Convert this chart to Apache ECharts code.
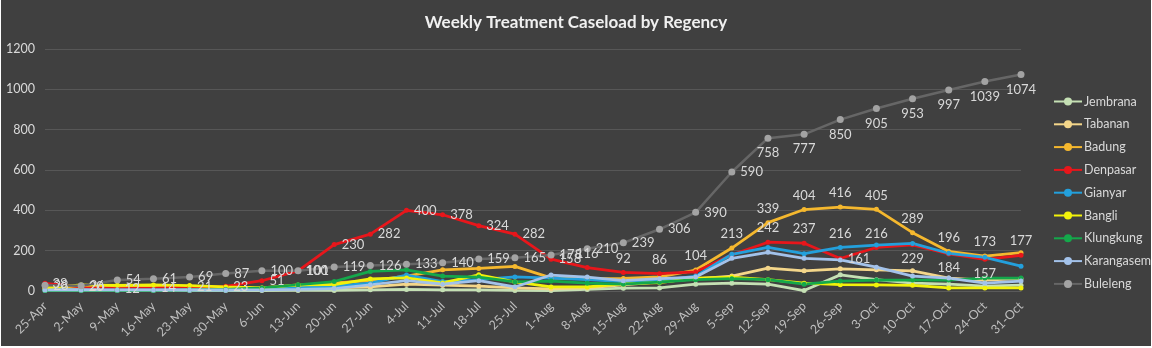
<!DOCTYPE html>
<html>
<head>
<meta charset="utf-8">
<script src="https://cdn.jsdelivr.net/npm/echarts@6/dist/echarts.min.js"></script>
<style>
  html, body { margin: 0; padding: 0; background: #ffffff; }
  #chart { position: absolute; left: 1px; top: 0; width: 1150px; height: 346px; background: #404040; }
</style>
</head>
<body>
<div id="chart"></div>
<script>
// Week starting dates (category axis)
const dates = ['25-Apr','2-May','9-May','16-May','23-May','30-May','6-Jun','13-Jun','20-Jun','27-Jun',
  '4-Jul','11-Jul','18-Jul','25-Jul','1-Aug','8-Aug','15-Aug','22-Aug','29-Aug','5-Sep',
  '12-Sep','19-Sep','26-Sep','3-Oct','10-Oct','17-Oct','24-Oct','31-Oct'];

// Weekly caseload per regency
const jembrana   = [2, 2, 2, 2, 2, 2, 2, 3, 3, 6, 8, 6, 5, 3, 2, 8, 14, 15, 34, 39, 34, 2, 80, 56, 39, 34, 24, 29];
const tabanan    = [8, 10, 10, 10, 10, 8, 8, 10, 15, 20, 34, 29, 24, 15, 10, 15, 30, 45, 60, 74, 113, 100, 110, 105, 100, 64, 54, 61];
const badung     = [15, 24, 22, 24, 22, 18, 15, 24, 40, 51, 74, 105, 112, 122, 65, 60, 62, 70, 104, 213, 339, 404, 416, 405, 289, 196, 173, 190];
const denpasar   = [38, 20, 12, 14, 21, 23, 51, 100, 230, 282, 400, 378, 324, 282, 158, 116, 92, 86, 95, 180, 242, 237, 161, 216, 229, 184, 157, 177];
const gianyar    = [5, 5, 5, 5, 5, 5, 8, 15, 24, 39, 79, 47, 56, 70, 64, 56, 46, 51, 74, 182, 216, 185, 216, 228, 236, 187, 167, 123];
const bangli     = [15, 30, 28, 30, 27, 20, 15, 30, 32, 60, 65, 40, 80, 45, 20, 20, 35, 42, 64, 69, 56, 39, 31, 30, 28, 15, 15, 15];
const klungkung  = [3, 3, 3, 3, 5, 8, 15, 31, 47, 97, 105, 74, 69, 45, 49, 39, 34, 44, 56, 61, 56, 34, 49, 54, 54, 54, 64, 64];
const karangasem = [5, 5, 5, 5, 5, 5, 5, 8, 12, 31, 51, 34, 51, 20, 79, 69, 51, 61, 69, 162, 192, 162, 154, 118, 74, 64, 39, 49];
const buleleng   = [28, 26, 54, 61, 69, 87, 100, 101, 119, 126, 133, 140, 159, 165, 178, 210, 239, 306, 390, 590, 758, 777, 850, 905, 953, 997, 1039, 1074];

const yTicks = [0, 200, 400, 600, 800, 1000, 1200];

// Where each series shows its value labels (null = no label)
const bulelengLabelPos = dates.map((d, i) => i < 20 ? 'right' : 'bottom');
const denpasarLabelPos = ['right','right','right','right','right','right','right','right','right','right',
  'right','right','right','right','right','top','top','top',null,null,
  'top','top','right','top','bottom','bottom','bottom','top'];
const badungLabelPos = dates.map((d, i) => (i >= 18 && i <= 26) ? 'top' : null);
const gianyarLabelPos = dates.map((d, i) => i === 22 ? 'top' : null);

function withLabels(values, positions) {
  return values.map((v, i) => positions && positions[i]
    ? { value: v, label: { show: true, position: positions[i] } }
    : v);
}

const FONT = 'Lato, "Open Sans", sans-serif';
const labelStyle = { show: false, color: '#d9d9d9', fontSize: 13, fontFamily: FONT, distance: 5 };

function lineSeries(name, values, color, positions, opts) {
  opts = opts || {};
  return {
    name: name,
    type: 'line',
    data: withLabels(values, positions),
    symbol: 'circle',
    symbolSize: opts.symbolSize || 5,
    lineStyle: { color: color, width: opts.width || 2.75 },
    itemStyle: { color: opts.markerColor || color },
    label: labelStyle,
    emphasis: { disabled: true },
    z: opts.z || 2
  };
}

const chart = echarts.init(document.getElementById('chart'), null, { renderer: 'canvas' });
chart.setOption({
  animation: false,
  backgroundColor: '#404040',
  title: {
    text: 'Weekly Treatment Caseload by Regency',
    left: 'center',
    top: 9,
    textStyle: { color: '#f0f0f0', fontSize: 17, fontWeight: 'bold', fontFamily: FONT }
  },
  legend: {
    orient: 'vertical',
    left: 1047,
    top: 90,
    itemWidth: 28,
    itemHeight: 10,
    itemGap: 9.8,
    textStyle: { color: '#d9d9d9', fontSize: 12.5, fontFamily: FONT, padding: [0, 0, 0, -3] },
    data: ['Jembrana','Tabanan','Badung','Denpasar','Gianyar','Bangli','Klungkung','Karangasem','Buleleng']
  },
  grid: { left: 44, right: 130, top: 49, bottom: 55 },
  xAxis: {
    type: 'category',
    data: dates,
    boundaryGap: false,
    axisLine: { show: true, lineStyle: { color: '#5a5a5a' } },
    axisTick: { show: false },
    axisLabel: { color: '#bfbfbf', fontSize: 12.5, fontFamily: FONT, rotate: 45, interval: 0, margin: 13 }
  },
  yAxis: {
    type: 'value',
    min: yTicks[0],
    max: yTicks[yTicks.length - 1],
    interval: yTicks[1] - yTicks[0],
    axisLine: { show: false },
    axisTick: { show: false },
    axisLabel: { color: '#d9d9d9', fontSize: 12.5, fontFamily: FONT, margin: 10, formatter: v => String(v) },
    splitLine: { lineStyle: { color: '#575757', width: 1 } }
  },
  series: [
    lineSeries('Jembrana', jembrana, '#c5e0b4'),
    lineSeries('Tabanan', tabanan, '#f4d68a'),
    lineSeries('Badung', badung, '#f5b82e', badungLabelPos),
    lineSeries('Denpasar', denpasar, '#e8161b', denpasarLabelPos),
    lineSeries('Gianyar', gianyar, '#23a0dc', gianyarLabelPos),
    lineSeries('Bangli', bangli, '#f2f20a'),
    lineSeries('Klungkung', klungkung, '#14a84b'),
    lineSeries('Karangasem', karangasem, '#a3c2ea'),
    lineSeries('Buleleng', buleleng, '#666666', bulelengLabelPos, { markerColor: '#a3a3a3', symbolSize: 7, width: 2.5 })
  ]
});
</script>
</body>
</html>
